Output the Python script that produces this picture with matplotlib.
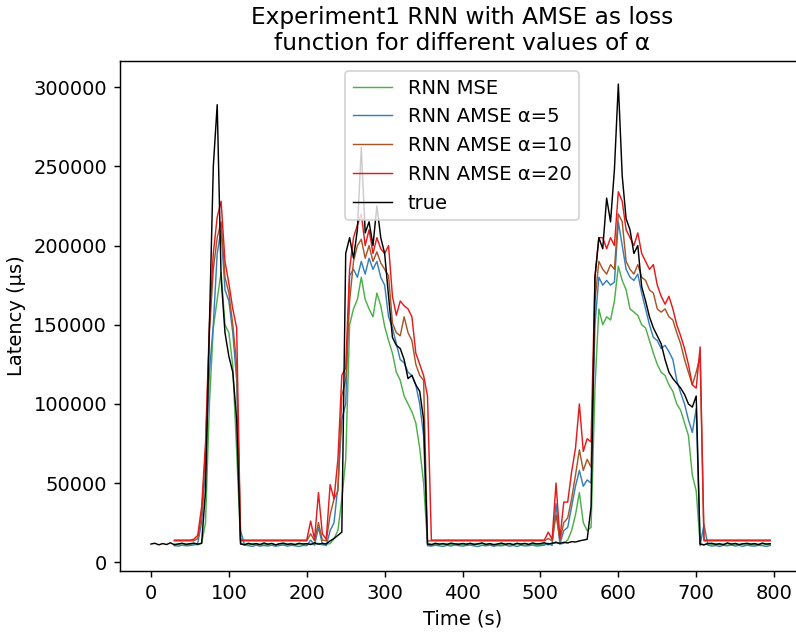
import numpy as np
import matplotlib
matplotlib.use("Agg")
import matplotlib.pyplot as plt

nan = np.nan

# Time grid [s], one sample every 5 s
t = np.arange(0, 800, 5)

# Latency values in thousands of µs, one row per 50 s
true_k = [
    11.5, 12.0, 11.0, 11.8, 11.2, 12.3, 11.0, 11.6, 12.0, 11.3,
    11.7, 12.1, 11.4, 12.0, 45, 150, 250, 289, 180, 145,
    130, 120, 90, 11.5, 11.0, 12.0, 11.3, 11.8, 11.1, 12.2,
    11.4, 11.9, 11.0, 11.7, 12.1, 11.3, 11.6, 11.2, 12.0, 11.5,
    11.8, 11.2, 12.3, 11.4, 11.9, 11.6, 13.5, 15.0, 17.0, 19.0,
    195, 205, 192, 210, 262, 208, 215, 200, 225, 205,
    195, 168, 142, 137, 135, 128, 116, 118, 112, 108,
    90, 11.5, 11.0, 12.0, 11.4, 11.8, 11.2, 12.1, 11.6, 11.3,
    11.9, 11.4, 12.0, 11.2, 11.7, 12.2, 11.3, 11.8, 11.0, 11.6,
    12.1, 11.4, 11.8, 11.2, 12.0, 11.5, 11.9, 11.3, 12.2, 11.6,
    11.8, 12.3, 11.5, 12.0, 12.4, 11.9, 12.6, 12.2, 13.0, 12.8,
    13.5, 14.0, 14.5, 35.0, 180, 205, 198, 230, 215, 248,
    302, 244, 217, 210, 195, 200, 174, 165, 155, 148,
    143, 138, 128, 120, 116, 113, 110, 106, 100, 98,
    105, 11.5, 11.0, 11.8, 12.0, 11.3, 11.7, 11.1, 12.2, 11.5,
    11.9, 11.2, 11.6, 12.0, 11.4, 11.8, 11.1, 12.1, 11.5, 11.7,
]

mse_k = [
    nan, nan, nan, nan, nan, nan, 11.5, 11.2, 11.8, 11.4,
    11.5, 11.3, 11.0, 12.0, 25, 100, 148, 166, 183, 150,
    145, 124, 70, 12.0, 11.5, 11.0, 11.8, 11.2, 11.5, 11.0,
    11.3, 11.8, 11.0, 11.6, 11.2, 11.5, 11.9, 11.1, 11.4, 11.7,
    11.0, 11.5, 11.2, 12.0, 11.0, 11.4, 11.8, 15.0, 20.0, 40.0,
    65, 150, 160, 166, 180, 166, 160, 155, 170, 162,
    149, 140, 132, 120, 115, 105, 100, 95, 88, 72,
    50, 12.0, 11.5, 11.0, 11.8, 11.2, 11.6, 11.0, 11.4, 11.8,
    11.2, 11.5, 11.0, 11.7, 11.3, 11.8, 11.1, 11.6, 11.4, 11.0,
    11.5, 11.2, 11.8, 11.0, 11.6, 11.3, 11.7, 11.1, 11.5, 11.2,
    11.2, 11.5, 11.0, 11.8, 13.0, 11.5, 12.0, 14.0, 20.0, 30.0,
    44, 25, 20, 22, 110, 160, 150, 155, 153, 165,
    187, 178, 172, 160, 158, 156, 150, 148, 140, 132,
    125, 120, 118, 112, 108, 100, 96, 88, 80, 55,
    45, 11.5, 11.0, 11.8, 11.2, 11.6, 11.0, 11.4, 11.7, 11.2,
    11.5, 11.1, 11.8, 11.3, 11.6, 11.0, 11.4, 11.7, 11.2, 11.5,
]

amse5_k = [
    nan, nan, nan, nan, nan, nan, 10.5, 10.2, 10.8, 10.4,
    10.6, 11.0, 12.0, 25, 60, 120, 150, 195, 210, 172,
    165, 145, 115, 20.0, 11.0, 10.5, 10.0, 10.8, 10.2, 10.6,
    10.3, 10.8, 10.1, 10.6, 10.9, 10.2, 10.7, 10.4, 10.0, 10.6,
    10.5, 14.0, 10.8, 22.0, 11.5, 10.5, 20.0, 25.0, 48.0, 90.0,
    100, 181, 185, 180, 190, 182, 192, 185, 190, 180,
    175, 155, 148, 138, 128, 126, 120, 118, 112, 100,
    80, 10.5, 10.2, 10.8, 10.4, 10.0, 10.7, 10.3, 10.9, 10.5,
    10.2, 10.6, 10.9, 10.3, 10.0, 10.7, 10.4, 10.8, 10.1, 10.6,
    10.4, 10.9, 10.2, 10.6, 10.0, 10.8, 10.3, 10.5, 10.9, 10.2,
    10.5, 10.8, 12.0, 10.6, 37.0, 11.5, 20.0, 22.0, 35.0, 48.0,
    58, 48, 52, 50, 150, 180, 175, 178, 175, 177,
    215, 200, 185, 180, 178, 182, 170, 160, 150, 142,
    140, 135, 137, 133, 128, 115, 107, 100, 90, 82,
    97, 10.5, 24.0, 10.8, 10.2, 10.6, 10.0, 10.7, 10.4, 10.9,
    10.3, 10.6, 10.1, 10.8, 10.4, 10.2, 10.7, 10.5, 10.0, 10.6,
]

amse10_k = [
    nan, nan, nan, nan, nan, nan, 13.5, 13.5, 13.5, 13.5,
    13.5, 13.5, 15.0, 30, 70, 145, 185, 205, 215, 180,
    170, 150, 125, 13.5, 13.5, 13.5, 13.5, 13.5, 13.5, 13.5,
    13.5, 13.5, 13.5, 13.5, 13.5, 13.5, 13.5, 13.5, 13.5, 13.5,
    13.5, 18.0, 13.5, 25.0, 14.0, 13.5, 30.0, 40.0, 45.0, 105,
    115, 165, 190, 200, 204, 192, 200, 190, 196, 189,
    185, 181, 151, 145, 143, 155, 145, 140, 125, 118,
    115, 13.5, 13.5, 13.5, 13.5, 13.5, 13.5, 13.5, 13.5, 13.5,
    13.5, 13.5, 13.5, 13.5, 13.5, 13.5, 13.5, 13.5, 13.5, 13.5,
    13.5, 13.5, 13.5, 13.5, 13.5, 13.5, 13.5, 13.5, 13.5, 13.5,
    13.5, 13.5, 15.0, 13.5, 30.0, 14.0, 25.0, 28.0, 40.0, 55.0,
    71, 58, 65, 60, 165, 190, 185, 182, 188, 185,
    220, 215, 190, 185, 182, 188, 180, 178, 172, 170,
    160, 158, 160, 155, 153, 145, 138, 128, 120, 112,
    120, 130, 13.5, 13.5, 13.5, 13.5, 13.5, 13.5, 13.5, 13.5,
    13.5, 13.5, 13.5, 13.5, 13.5, 13.5, 13.5, 13.5, 13.5, 13.5,
]

amse20_k = [
    nan, nan, nan, nan, nan, nan, 14.0, 14.0, 14.0, 14.0,
    14.0, 14.5, 17.0, 35, 75, 150, 195, 218, 228, 190,
    176, 160, 148, 14.0, 14.0, 14.0, 14.0, 14.0, 14.0, 14.0,
    14.0, 14.0, 14.0, 14.0, 14.0, 14.0, 14.0, 14.0, 14.0, 14.0,
    14.0, 26.0, 14.5, 44.0, 18.0, 14.5, 49.0, 40.0, 65.0, 118,
    123, 185, 205, 213, 220, 200, 210, 195, 205, 198,
    195, 200, 168, 156, 165, 162, 160, 155, 132, 125,
    118, 105, 14.0, 14.0, 14.0, 14.0, 14.0, 14.0, 14.0, 14.0,
    14.0, 14.0, 14.0, 14.0, 14.0, 14.0, 14.0, 14.0, 14.0, 14.0,
    14.0, 14.0, 14.0, 14.0, 14.0, 14.0, 14.0, 14.0, 14.0, 14.0,
    14.0, 14.0, 19.0, 14.5, 50.0, 15.0, 38.0, 38.0, 57.0, 72.0,
    100, 70, 78, 76, 180, 205, 205, 198, 205, 200,
    234, 228, 210, 205, 200, 208, 195, 190, 185, 188,
    175, 168, 163, 168, 160, 150, 143, 135, 125, 112,
    110, 136, 14.0, 14.0, 14.0, 14.0, 14.0, 14.0, 14.0, 14.0,
    14.0, 14.0, 14.0, 14.0, 14.0, 14.0, 14.0, 14.0, 14.0, 14.0,
]

labels = ['RNN MSE', 'RNN AMSE α=5', 'RNN AMSE α=10', 'RNN AMSE α=20', 'true']
colors = ['#4daf4a', '#377eb8', '#a65628', '#e41a1c', 'black']

plt.rcParams['font.size'] = 10.8

dpi = 130
fig = plt.figure(figsize=(796/dpi, 633/dpi), dpi=dpi)
ax = fig.add_axes([0.1506, 0.098, 0.860, 0.8057])

series = [mse_k, amse5_k, amse10_k, amse20_k, true_k]
for s, lab, c in zip(series, labels, colors):
    ax.plot(t, np.array(s)*1000, color=c, lw=0.8, label=lab)

ax.set_xlim(-39.95, 838.95)
ax.set_ylim(-5500, 316600)
ax.set_xticks(np.arange(0, 801, 100))
ax.set_xlabel('Time (s)')
ax.set_ylabel('Latency (µs)')
ax.set_title('Experiment1 RNN with AMSE as loss\nfunction for different values of α',
             fontsize=12.9)
ax.legend(loc='upper center')

fig.savefig('out.png', dpi=dpi)
